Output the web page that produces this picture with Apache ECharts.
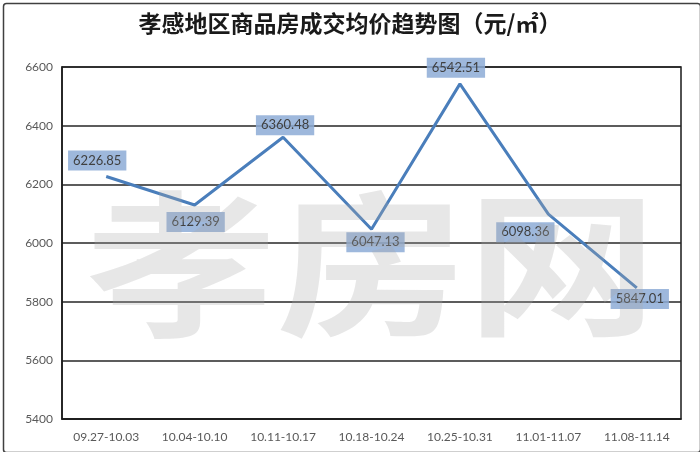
<!DOCTYPE html>
<html><head><meta charset="utf-8">
<script src="https://cdn.jsdelivr.net/npm/echarts@6/dist/echarts.min.js"></script>
<style>html,body{margin:0;padding:0;background:#fff}#c{width:700px;height:452px}</style>
</head><body><div id="c"></div>
<script>
var titleText = '孝感地区商品房成交均价趋势图（元/㎡）';
var categories = ['09.27-10.03','10.04-10.10','10.11-10.17','10.18-10.24','10.25-10.31','11.01-11.07','11.08-11.14'];
var prices = [6226.85, 6129.39, 6360.48, 6047.13, 6542.51, 6098.36, 5847.01];
var labelOffsets = [[-9,-16],[1,17],[2,-12],[4,13],[-4,-16],[-23,18],[3,11]];

var chart = echarts.init(document.getElementById('c'));
chart.setOption({
  backgroundColor: '#fff',
  animation: false,
  title: {
    text: titleText, left: 'center', top: 7,
    textStyle: {fontFamily: 'Noto Sans CJK SC', fontWeight: 'bold', fontSize: 23, color: '#1a1a1a'}
  },
  grid: {left: 62, right: 19, top: 67, bottom: 33, show: true, borderColor: '#1a1a1a', borderWidth: 1.5, backgroundColor: 'transparent'},
  xAxis: {
    type: 'category', data: categories, boundaryGap: true,
    axisLine: {show: true, lineStyle: {color: '#1a1a1a', width: 1.5}},
    axisTick: {show: false},
    axisLabel: {color: '#595959', fontSize: 12, fontFamily: 'Lato', margin: 12, interval: 0}
  },
  yAxis: {
    type: 'value', min: 5400, max: 6600, interval: 200,
    axisLine: {show: true, lineStyle: {color: '#1a1a1a', width: 1.5}},
    axisTick: {show: false},
    splitLine: {show: true, lineStyle: {color: '#262626', width: 1.5}},
    axisLabel: {color: '#595959', fontSize: 12, fontFamily: 'Lato', margin: 9, formatter: function(v){ return String(v); }}
  },
  series: [{
    type: 'line', data: prices, showSymbol: true, symbol: 'circle', symbolSize: 2,
    showAllSymbol: true,
    itemStyle: {color: 'rgba(74,126,187,0)'},
    lineStyle: {color: '#4a7ebb', width: 3},
    z: 3,
    labelLayout: function(p){
      var o = labelOffsets[p.dataIndex];
      return {dx: o[0], dy: o[1], hideOverlap: false};
    },
    label: {
      show: true, position: 'inside', color: '#404040', fontSize: 13, fontFamily: 'Lato',
      backgroundColor: 'rgba(141,171,214,0.85)', padding: [4, 5, 3, 5],
      formatter: function(p){ return p.value.toFixed(2); }
    }
  }],
  graphic: [
    {type: 'rect', left: 1, top: 1, shape: {width: 697, height: 449, r: 3}, style: {fill: 'none', stroke: '#404040', lineWidth: 1.5}, z: 10},
    {type: 'text', left: 86, top: 186, z: 20, scaleX: 1.22, silent: true,
     style: {text: '孝房网', font: 'bold 156px "Noto Sans CJK SC"', fill: 'rgba(170,170,170,0.28)'}}
  ]
});
</script></body></html>
